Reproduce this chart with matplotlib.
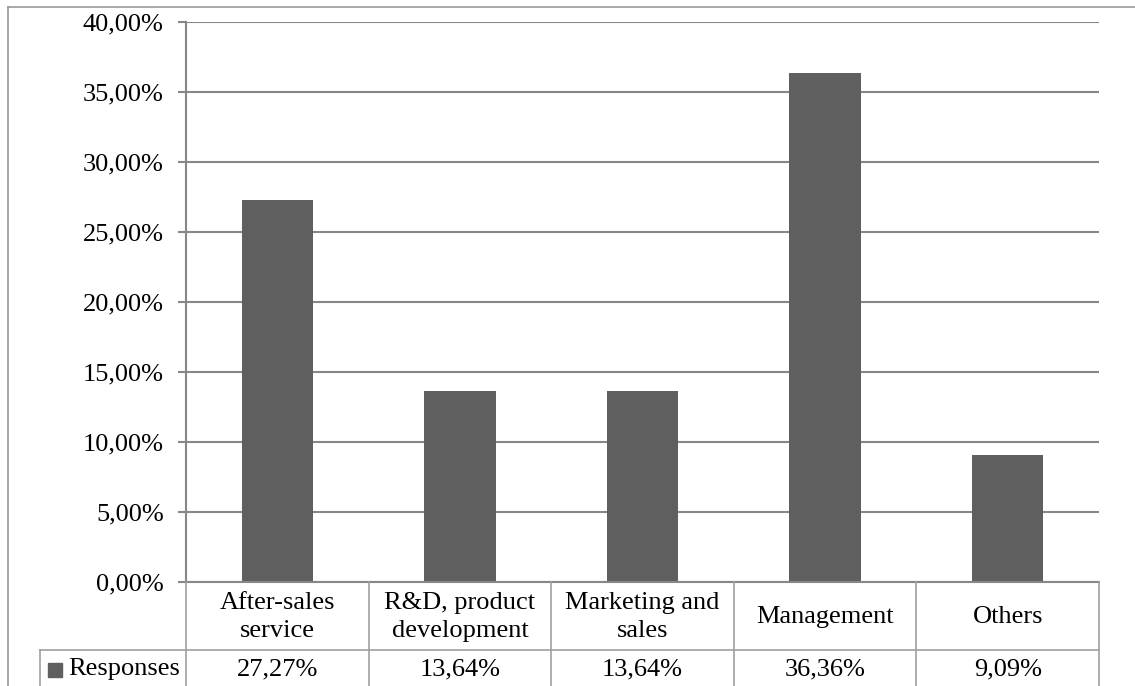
import matplotlib
matplotlib.use("Agg")
import matplotlib.pyplot as plt
from matplotlib import transforms
from matplotlib.lines import Line2D
from matplotlib.patches import Rectangle

categories = ["After-sales\nservice", "R&D, product\ndevelopment", "Marketing and\nsales",
              "Management", "Others"]
responses = [27.27, 13.64, 13.64, 36.36, 9.09]
series_name = "Responses"
y_ticks = [0, 5, 10, 15, 20, 25, 30, 35, 40]

W, H = 1135, 686
plt.rcParams["font.family"] = ["Liberation Serif", "DejaVu Serif"]
FS = 19
GRID = "#878787"
BAR = "#5f5f5f"

fig = plt.figure(figsize=(W / 100, H / 100), dpi=100)
fig.patch.set_facecolor("white")

# figure pixel coordinates, origin at top-left
px = transforms.Affine2D().scale(1 / W, -1 / H).translate(0, 1) + fig.transFigure

x0, x1, ytop, ybot = 186, 1099, 22, 582
ax = fig.add_axes([x0 / W, (H - ybot) / H, (x1 - x0) / W, (ybot - ytop) / H])
ax.set_xlim(-0.5, len(categories) - 0.5)
ax.set_ylim(0, 40)
ax.bar(range(len(categories)), responses, width=0.39, color=BAR, zorder=3)

ax.set_yticks(y_ticks)
ax.set_yticklabels([f"{v:.2f}".replace(".", ",") + "%" for v in y_ticks], fontsize=FS)
ax.tick_params(axis="y", length=6, width=1.5, color=GRID, pad=10)
ax.set_xticks([])
ax.yaxis.grid(True, color=GRID, linewidth=1.5, zorder=0)
for s in ["top", "right", "bottom"]:
    ax.spines[s].set_visible(False)
ax.spines["left"].set_color(GRID)
ax.spines["left"].set_linewidth(1.5)
ax.set_facecolor("none")

# outer chart frame
fig.add_artist(Line2D([8, 8], [7, H + 5], transform=px, color="#9a9a9a", lw=1.2))
fig.add_artist(Line2D([8, W + 5], [7, 7], transform=px, color="#9a9a9a", lw=1.2))

# data table below the plot
bt = transforms.blended_transform_factory(ax.transData, px)
row1_top, row1_bot, row2_bot = 582, 650, H + 5
tcol = "#a0a0a0"
n = len(categories)
# header row lines
fig.add_artist(Line2D([-0.5, n - 0.5], [row1_top, row1_top], transform=bt, color=GRID, lw=1.5))
for i in range(n + 1):
    xb = i - 0.5
    fig.add_artist(Line2D([xb, xb], [row1_top, row2_bot], transform=bt, color=tcol, lw=1.2))
fig.add_artist(Line2D([40 / W, x1 / W], [row1_bot, row1_bot],
                      transform=transforms.blended_transform_factory(fig.transFigure, px),
                      color=tcol, lw=1.2))
fig.add_artist(Line2D([40, 40], [row1_bot, row2_bot], transform=px, color=tcol, lw=1.2))

for i, (cat, val) in enumerate(zip(categories, responses)):
    fig.text(i, (row1_top + row1_bot) / 2 + 1, cat, transform=bt, ha="center", va="center",
             fontsize=FS, linespacing=1.36)
    fig.text(i, 669, f"{val:.2f}".replace(".", ",") + "%", transform=bt,
             ha="center", va="center", fontsize=FS)

# legend key in the table
fig.add_artist(Rectangle((48, 663), 14, 14, transform=px, color=BAR))
fig.text(68, 669, series_name, transform=px, ha="left", va="center", fontsize=FS)

fig.savefig("out.png", dpi=100, facecolor="white")
